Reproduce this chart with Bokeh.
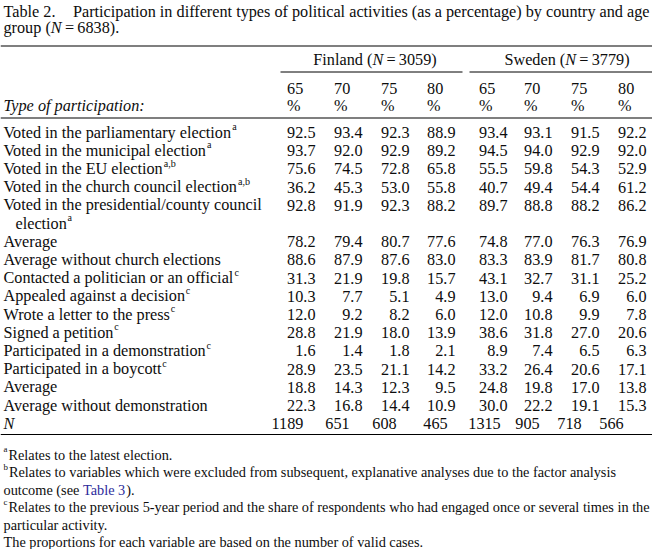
from bokeh.plotting import figure
from bokeh.models import Range1d
from bokeh.core.properties import value
from bokeh.embed import file_html
from bokeh.resources import INLINE

# ---------------- data ----------------
table_no = "Table 2."
title_1 = "Participation in different types of political activities (as a percentage) by country and age"
title_2a = "group ("
title_2n = "N"
title_2b = "\u2009=\u20096838)."
countries = ["Finland", "Sweden"]
country_n = ["3059", "3779"]
age_groups = ["65", "70", "75", "80"]
stub_head = "Type of participation:"
row_labels = [
    "Voted in the parliamentary election",
    "Voted in the municipal election",
    "Voted in the EU election",
    "Voted in the church council election",
    "Voted in the presidential/county council",
    "Average",
    "Average without church elections",
    "Contacted a politician or an official",
    "Appealed against a decision",
    "Wrote a letter to the press",
    "Signed a petition",
    "Participated in a demonstration",
    "Participated in a boycott",
    "Average",
    "Average without demonstration",
]
row_notes = ["a", "a", "a,b", "a,b", "a", "", "", "c", "c", "c", "c", "c", "c", "", ""]
wrap_row = 4
wrap_text = "election"
fin_65 = [92.5, 93.7, 75.6, 36.2, 92.8, 78.2, 88.6, 31.3, 10.3, 12.0, 28.8, 1.6, 28.9, 18.8, 22.3]
fin_70 = [93.4, 92.0, 74.5, 45.3, 91.9, 79.4, 87.9, 21.9, 7.7, 9.2, 21.9, 1.4, 23.5, 14.3, 16.8]
fin_75 = [92.3, 92.9, 72.8, 53.0, 92.3, 80.7, 87.6, 19.8, 5.1, 8.2, 18.0, 1.8, 21.1, 12.3, 14.4]
fin_80 = [88.9, 89.2, 65.8, 55.8, 88.2, 77.6, 83.0, 15.7, 4.9, 6.0, 13.9, 2.1, 14.2, 9.5, 10.9]
swe_65 = [93.4, 94.5, 55.5, 40.7, 89.7, 74.8, 83.3, 43.1, 13.0, 12.0, 38.6, 8.9, 33.2, 24.8, 30.0]
swe_70 = [93.1, 94.0, 59.8, 49.4, 88.8, 77.0, 83.9, 32.7, 9.4, 10.8, 31.8, 7.4, 26.4, 19.8, 22.2]
swe_75 = [91.5, 92.9, 54.3, 54.4, 88.2, 76.3, 81.7, 31.1, 6.9, 9.9, 27.0, 6.5, 20.6, 17.0, 19.1]
swe_80 = [92.2, 92.0, 52.9, 61.2, 86.2, 76.9, 80.8, 25.2, 6.0, 7.8, 20.6, 6.3, 17.1, 13.8, 15.3]
n_label = "N"
fin_n = [1189, 651, 608, 465]
swe_n = [1315, 905, 718, 566]
foot_a = "Relates to the latest election."
foot_b1 = "Relates to variables which were excluded from subsequent, explanative analyses due to the factor analysis"
foot_b2a = "outcome (see "
foot_b2link = "Table 3"
foot_b2b = ")."
foot_c1 = "Relates to the previous 5-year period and the share of respondents who had engaged once or several times in the"
foot_c2 = "particular activity."
foot_end = "The proportions for each variable are based on the number of valid cases."

# ---------------- layout (reference pixel units) ----------------
REF_W, REF_H = 652, 549
W_PX, H_PX = 652, 549
SX = W_PX / REF_W
FONT = "Liberation Serif"
SUP = 0.62

# Times metrics (per 1000 em)
_w = dict(zip("abcdefghijklmnopqrstuvwxyz",
              [444, 500, 444, 500, 444, 333, 500, 500, 278, 278, 500, 278, 778,
               500, 500, 500, 500, 333, 389, 278, 500, 500, 722, 500, 500, 444]))
_w.update(dict(zip("ABCDEFGHIJKLMNOPQRSTUVWXYZ",
                   [722, 667, 667, 722, 611, 556, 722, 722, 333, 389, 722, 611, 889,
                    722, 722, 556, 722, 667, 556, 611, 722, 722, 944, 722, 722, 611])))
_w.update({" ": 250, ".": 250, ",": 250, "/": 278, ":": 278, "(": 333, ")": 333,
           "-": 333, "=": 564, "%": 833, "\u2009": 167})
for d in "0123456789":
    _w[d] = 500
_kern = {"Vo": -110, "Wr": -40}


def em(s):
    w = sum(_w.get(ch, 500) for ch in s)
    w += sum(_kern.get(s[i:i + 2], 0) for i in range(len(s) - 1))
    return w / 1000.0


LX = 3
RX = 650
TITLE_GAP = 1.0
FS = (RX - LX) / (em(table_no) + TITLE_GAP + em(title_1))
FN = (RX - LX) / (em(foot_c1) + SUP * em("c") + 0.1)


def tw(s, size=None):
    return em(s) * (FS if size is None else size)


p = figure(width=W_PX, height=H_PX, output_backend="svg", toolbar_location=None,
           x_range=Range1d(0, REF_W), y_range=Range1d(REF_H, 0),
           x_axis_location=None, y_axis_location=None,
           min_border=0, outline_line_color=None, background_fill_color="white",
           border_fill_color="white")
p.title.visible = False
p.grid.visible = False


def put(x, y, txt, align="left", size=None, style="normal", color="#0d0d0d"):
    size = FS if size is None else size
    p.text(x=[x], y=[y], text=[txt], text_align=align, text_baseline="alphabetic",
           text_font=value(FONT), text_font_size=value(f"{size * SX:.2f}px"),
           text_font_style=style, text_color=color)


def sup(x, y, txt, base=None):
    base = FS if base is None else base
    put(x + 0.6, y - base * 0.36, txt, size=base * SUP)


# title
TY1, TY2 = 11, 27.5
put(LX, TY1, table_no)
put(LX + tw(table_no) + FS * TITLE_GAP, TY1, title_1)
put(LX, TY2, title_2a)
xn = LX + tw(title_2a)
put(xn, TY2, title_2n, style="italic")
put(xn + 0.667 * FS, TY2, title_2b)

# rules
rules_y = [45.5, 117.5, 434]
p.segment(x0=[0] * 3, x1=[REF_W] * 3, y0=rules_y, y1=rules_y, line_color="black", line_width=1.1)
UL_Y = 71.5
p.segment(x0=[280, 469], x1=[462, REF_W], y0=[UL_Y, UL_Y], y1=[UL_Y, UL_Y],
          line_color="black", line_width=1.0)

# country headers
country_cx = [374, 566]
HY = 59
for c, n, cx in zip(countries, country_n, country_cx):
    a = c + " ("
    b = "\u2009=\u2009" + n + ")"
    total = tw(a) + 0.667 * FS + tw(b)
    x0 = cx - total / 2
    put(x0, HY, a)
    put(x0 + tw(a), HY, "N", style="italic")
    put(x0 + tw(a) + 0.667 * FS, HY, b)

# column positions (right edges of the numbers)
col_right = [315, 362, 409, 455, 507, 552, 599, 646]
num_w = tw("00.0")

# age headers (left aligned with the number columns)
AY, PY = 88, 105.5
for i, xr in enumerate(col_right):
    put(xr - num_w, AY, age_groups[i % 4])
    put(xr - num_w, PY, "%")
put(LX, PY, stub_head, style="italic")

# body
LINE0, LH = 132, 18.2
cols = [fin_65, fin_70, fin_75, fin_80, swe_65, swe_70, swe_75, swe_80]
for i, lab in enumerate(row_labels):
    line = i if i <= wrap_row else i + 1
    y = LINE0 + LH * line
    put(LX, y, lab)
    if i == wrap_row:
        y2 = y + LH
        put(LX + 12, y2, wrap_text)
        sup(LX + 12 + tw(wrap_text), y2, row_notes[i])
    elif row_notes[i]:
        sup(LX + tw(lab), y, row_notes[i])
    for xr, col in zip(col_right, cols):
        put(xr, y, f"{col[i]:.1f}", align="right")

yN = LINE0 + LH * (len(row_labels) + 1)
put(LX, yN, n_label, style="italic")
n_cx = [287, 337, 384, 435, 484, 527, 569, 611]
for cx, v in zip(n_cx, fin_n + swe_n):
    put(cx, yN, str(v), align="center")

# footnotes
FY0, FLH = 454, 17.5
fy = [FY0 + FLH * k for k in range(6)]


def sw(t):
    return tw(t, FN * SUP) + 1


sup(LX - 0.6, fy[0], "a", FN); put(LX + sw("a"), fy[0], foot_a, size=FN)
sup(LX - 0.6, fy[1], "b", FN); put(LX + sw("b"), fy[1], foot_b1, size=FN)
put(LX, fy[2], foot_b2a, size=FN)
put(LX + tw(foot_b2a, FN), fy[2], foot_b2link, size=FN, color="#2b2b9b")
put(LX + tw(foot_b2a, FN) + tw(foot_b2link, FN), fy[2], foot_b2b, size=FN)
sup(LX - 0.6, fy[3], "c", FN); put(LX + sw("c"), fy[3], foot_c1, size=FN)
put(LX, fy[4], foot_c2, size=FN)
put(LX, fy[5], foot_end, size=FN)

open("out.html", "w").write(file_html(p, INLINE))
